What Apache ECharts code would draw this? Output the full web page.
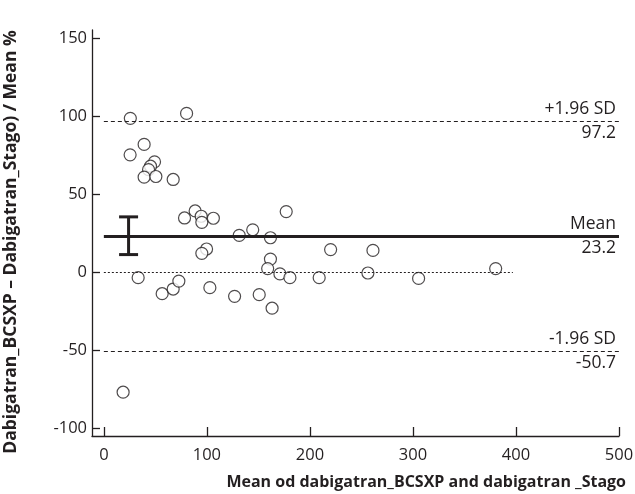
<!DOCTYPE html>
<html><head><meta charset="utf-8">
<script src="https://cdn.jsdelivr.net/npm/echarts@6.0.0/dist/echarts.min.js"></script>
<style>html,body{margin:0;padding:0;background:#fff}#c{width:635px;height:494px}</style>
</head><body><div id="c"></div>
<script>
// Mean of the two methods (x) and percentage difference (y)
const meanX = [25.7, 80.3, 39.1, 25.5, 49.2, 45.3, 43.4, 39.1, 50.5, 67.3,
  88.6, 78.3, 94.5, 95.1, 106.3, 177.0, 131.4, 144.5, 161.7, 220.1,
  261.2, 99.7, 95.1, 33.3, 56.6, 67.3, 72.8, 102.9, 126.9, 150.8,
  163.3, 161.7, 159.0, 170.9, 180.6, 209.0, 256.3, 305.5, 380.3, 18.7];
const pctDiff = [98.8, 102.0, 82.1, 75.4, 70.9, 68.1, 65.9, 61.1, 61.5, 59.6,
  39.4, 34.9, 36.0, 32.1, 34.7, 39.0, 23.7, 27.3, 22.2, 14.6,
  14.1, 15.0, 12.2, -3.4, -13.7, -10.7, -5.6, -9.8, -15.4, -14.3,
  -23.0, 8.5, 2.4, -1.0, -3.4, -3.4, -0.4, -3.9, 2.4, -76.9];
const xTicks = [0, 100, 200, 300, 400, 500];
const yTicks = [-100, -50, 0, 50, 100, 150];
const meanDiff = 23.2, upperLoA = 97.2, lowerLoA = -50.7;
const meanCI = [11.4, 35.6];
const ciX = 24;
const zeroLineEnd = 397;
const lineStart = 0, lineEnd = 500;

const points = meanX.map((x, i) => [x, pctDiff[i]]);
const ink = '#231f20';
const font = '"Open Sans", sans-serif';
const chart = echarts.init(document.getElementById('c'), null, {renderer: 'canvas'});

const lbl = (text, pos) => ({show: true, position: pos, formatter: text, distance: 3,
  fontSize: 17.5, color: ink, fontFamily: font});
const hidden = {color: 'rgba(0,0,0,0)', width: 0};

chart.setOption({
  animation: false,
  backgroundColor: '#fff',
  textStyle: {fontFamily: font},
  title: {
    text: 'Mean od dabigatran_BCSXP and dabigatran _Stago',
    right: 9, top: 474, padding: 0,
    textStyle: {fontSize: 16, fontWeight: 'bold', color: ink, fontFamily: font}
  },
  grid: {left: 92, right: 16, top: 30, bottom: 58, containLabel: false, outerBoundsMode: 'none'},
  xAxis: {
    type: 'value', min: -11.5, max: 500,
    axisLine: {onZero: false, lineStyle: {color: ink, width: 1.3}},
    axisTick: {inside: true, length: 9, lineStyle: {color: ink, width: 1.3}, customValues: xTicks},
    axisLabel: {customValues: xTicks, fontSize: 16.5, color: ink, margin: 11, fontFamily: font},
    splitLine: {show: false}
  },
  yAxis: {
    type: 'value', min: -105, max: 155.5,
    name: 'Dabigatran_BCSXP \u2013 Dabigatran_Stago) / Mean %',
    nameLocation: 'middle', nameGap: 72, nameRotate: 90,
    nameTextStyle: {fontSize: 17.5, fontWeight: 'bold', color: ink, fontFamily: font, padding: [0, 18, 0, 0]},
    axisLine: {onZero: false, lineStyle: {color: ink, width: 1.3}},
    axisTick: {inside: true, length: 8, lineStyle: {color: ink, width: 1.3}, customValues: yTicks},
    axisLabel: {customValues: yTicks, fontSize: 16.5, color: ink, margin: 5, fontFamily: font},
    splitLine: {show: false}
  },
  series: [
    {
      type: 'scatter', data: points, symbol: 'circle', symbolSize: 12, z: 4,
      itemStyle: {color: '#fff', borderColor: ink, borderWidth: 1.2},
      markLine: {
        silent: true, symbol: 'none', animation: false,
        data: [
          [{coord: [lineStart, upperLoA], lineStyle: {type: [4, 3], color: ink, width: 1.1},
            label: lbl('+1.96 SD', 'insideEndTop')}, {coord: [lineEnd, upperLoA]}],
          [{coord: [lineStart, upperLoA], lineStyle: hidden,
            label: lbl(String(upperLoA), 'insideEndBottom')}, {coord: [lineEnd, upperLoA]}],
          [{coord: [lineStart, meanDiff], lineStyle: {type: 'solid', color: ink, width: 3},
            label: lbl('Mean', 'insideEndTop')}, {coord: [lineEnd, meanDiff]}],
          [{coord: [lineStart, meanDiff], lineStyle: hidden,
            label: lbl(String(meanDiff), 'insideEndBottom')}, {coord: [lineEnd, meanDiff]}],
          [{coord: [lineStart, lowerLoA], lineStyle: {type: [4, 3], color: ink, width: 1.1},
            label: lbl('-1.96 SD', 'insideEndTop')}, {coord: [lineEnd, lowerLoA]}],
          [{coord: [lineStart, lowerLoA], lineStyle: hidden,
            label: lbl(String(lowerLoA), 'insideEndBottom')}, {coord: [lineEnd, lowerLoA]}],
          [{coord: [lineStart, 0], lineStyle: {type: [2, 2], color: ink, width: 1},
            label: {show: false}}, {coord: [zeroLineEnd, 0]}]
        ]
      }
    },
    {
      type: 'custom', z: 5, silent: true,
      data: [[ciX, meanCI[0], meanCI[1]]],
      renderItem: function (params, api) {
        const top = api.coord([api.value(0), api.value(2)]);
        const bot = api.coord([api.value(0), api.value(1)]);
        const hw = 9.5;
        const st = {stroke: ink, lineWidth: 3};
        return {type: 'group', children: [
          {type: 'line', shape: {x1: top[0], y1: top[1], x2: bot[0], y2: bot[1]}, style: st},
          {type: 'line', shape: {x1: top[0] - hw, y1: top[1], x2: top[0] + hw, y2: top[1]}, style: st},
          {type: 'line', shape: {x1: bot[0] - hw, y1: bot[1], x2: bot[0] + hw, y2: bot[1]}, style: st}
        ]};
      }
    }
  ]
});
</script>
</body></html>
